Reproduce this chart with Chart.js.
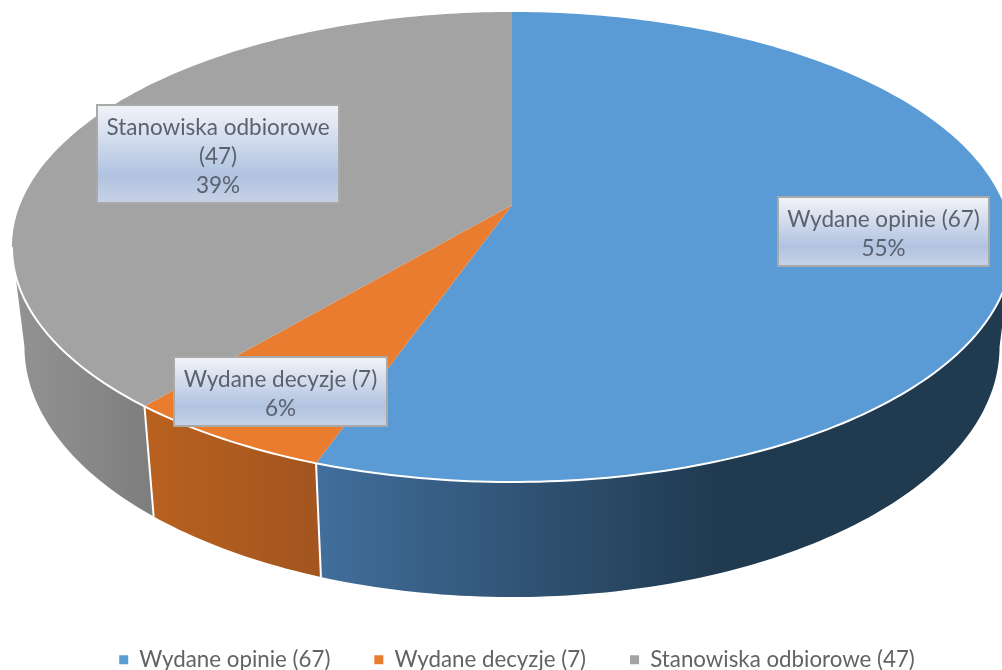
<!DOCTYPE html>
<html>
<head>
<meta charset="utf-8">
<style>
    html, body { margin: 0; padding: 0; background: #fff; overflow: hidden; }
    canvas { display: block; filter: blur(0.6px); }
</style>
<script src="https://cdn.jsdelivr.net/npm/chart.js@4"></script>
</head>
<body>
<canvas id="myChart" width="1002" height="670"></canvas>
<script>
const categories = ['Wydane opinie (67)', 'Wydane decyzje (7)', 'Stanowiska odbiorowe (47)'];
const values = [67, 7, 47];
const percents = ['55%', '6%', '39%'];
const labelLines = [['Wydane opinie (67)'], ['Wydane decyzje (7)'], ['Stanowiska odbiorowe', '(47)']];
const colors = ['#5b9bd5', '#ea7c2f', '#a3a3a3'];

// kolory boku plastra: lewa i prawa strona
const wallColors = [['#416e9b', '#203a50', 320, 720], ['#b9611f', '#a2551f', 145, 320], ['#929292', '#7e7e7e', 20, 150]];
const labelBoxes = [[778, 197, 211, 69], [174, 357, 213, 69], [97, 105, 242, 98]];

// rzut perspektywiczny kola na plaszczyzne obrazu
const cx = 512, cy = 205, radX = 492, radY = 227.5, persp = 0.1787;
const bottomScaleX = 0.975, bottomScaleY = 1.065, bottomShiftY = 83.7;
// katy, na ktorych bok znika z widoku
const sideFrom = Math.PI - Math.acos(persp), sideTo = Math.PI + Math.acos(persp);
const fontName = 'Lato, "Open Sans", sans-serif';

function topPoint(angle) {
    const u = Math.sin(angle), v = -Math.cos(angle);
    const w = 1 - persp * v;
    return [cx + radX * u / w, cy + radY * v / w];
}

function bottomPoint(angle) {
    const p = topPoint(angle);
    return [cx + (p[0] - cx) * bottomScaleX, p[1] * bottomScaleY + bottomShiftY];
}

function tracePath(ctx, pointFn, from, to, first) {
    const steps = Math.max(2, Math.ceil(Math.abs(to - from) * 60));
    for (let i = 0; i <= steps; i++) {
        const p = pointFn(from + (to - from) * i / steps);
        if (i === 0 && first) {
            ctx.moveTo(p[0], p[1]);
        } else {
            ctx.lineTo(p[0], p[1]);
        }
    }
}

// gorna powierzchnia plastra rysowana przez element luku Chart.js
Chart.ArcElement.prototype.draw = function (ctx) {
    const from = this.startAngle + Math.PI / 2;
    const to = this.endAngle + Math.PI / 2;
    ctx.save();
    ctx.beginPath();
    ctx.moveTo(cx, cy);
    tracePath(ctx, topPoint, from, to, false);
    ctx.closePath();
    ctx.fillStyle = this.options.backgroundColor;
    ctx.fill();
    ctx.beginPath();
    tracePath(ctx, topPoint, Math.max(from, sideFrom), Math.min(to, sideTo), true);
    ctx.strokeStyle = '#fff';
    ctx.lineWidth = 2;
    ctx.stroke();
    ctx.restore();
};

const wallsPlugin = {
    id: 'walls',
    beforeDatasetsDraw(chart) {
        const ctx = chart.ctx;
        chart.getDatasetMeta(0).data.forEach(function (arc, i) {
            const from = Math.max(arc.startAngle + Math.PI / 2, sideFrom);
            const to = Math.min(arc.endAngle + Math.PI / 2, sideTo);
            const grad = ctx.createLinearGradient(wallColors[i][2], 0, wallColors[i][3], 0);
            grad.addColorStop(0, wallColors[i][0]);
            grad.addColorStop(1, wallColors[i][1]);
            ctx.save();
            ctx.beginPath();
            tracePath(ctx, topPoint, from, to, true);
            tracePath(ctx, bottomPoint, to, from, false);
            ctx.closePath();
            ctx.fillStyle = grad;
            ctx.fill();
            ctx.restore();
        });
        // biale linie miedzy plastrami na boku
        chart.getDatasetMeta(0).data.forEach(function (arc) {
            const angle = arc.endAngle + Math.PI / 2;
            if (angle < sideFrom || angle > sideTo) {
                return;
            }
            const a = topPoint(angle), b = bottomPoint(angle);
            ctx.save();
            ctx.beginPath();
            ctx.moveTo(a[0], a[1]);
            ctx.lineTo(b[0], b[1]);
            ctx.strokeStyle = '#fff';
            ctx.lineWidth = 2;
            ctx.stroke();
            ctx.restore();
        });
    }
};

const boxesPlugin = {
    id: 'boxes',
    afterDatasetsDraw(chart) {
        const ctx = chart.ctx;
        categories.forEach(function (name, i) {
            const b = labelBoxes[i];
            const grad = ctx.createLinearGradient(0, b[1], 0, b[1] + b[3]);
            grad.addColorStop(0, '#f2f3f8');
            grad.addColorStop(0.72, '#b0c3e0');
            grad.addColorStop(1, '#c8d2e6');
            ctx.save();
            ctx.fillStyle = grad;
            ctx.fillRect(b[0], b[1], b[2], b[3]);
            ctx.strokeStyle = '#a9a9a9';
            ctx.lineWidth = 2;
            ctx.strokeRect(b[0], b[1], b[2], b[3]);
            ctx.fillStyle = '#5a6270';
            ctx.font = '22.5px ' + fontName;
            ctx.textAlign = 'center';
            ctx.textBaseline = 'middle';
            const lines = labelLines[i].concat(percents[i]);
            const startY = b[1] + b[3] / 2 + 3 - (lines.length - 1) * 14.5;
            lines.forEach(function (line, k) {
                ctx.fillText(line, b[0] + b[2] / 2, startY + k * 29);
            });
            ctx.restore();
        });
    }
};

const myChart = new Chart(document.getElementById('myChart'), {
    type: 'pie',
    data: {
        labels: categories,
        datasets: [{
            data: values,
            backgroundColor: colors,
            borderWidth: 0
        }]
    },
    options: {
        responsive: false,
        animation: false,
        layout: { padding: { left: 32, bottom: -11 } },
        plugins: {
            tooltip: { enabled: false },
            legend: {
                display: true,
                position: 'bottom',
                labels: {
                    usePointStyle: true,
                    pointStyle: 'rect',
                    boxWidth: 9,
                    boxHeight: 9,
                    padding: 44,
                    color: '#636363',
                    font: { family: fontName, size: 22.3 }
                }
            }
        }
    },
    plugins: [wallsPlugin, boxesPlugin]
});
</script>
</body>
</html>
